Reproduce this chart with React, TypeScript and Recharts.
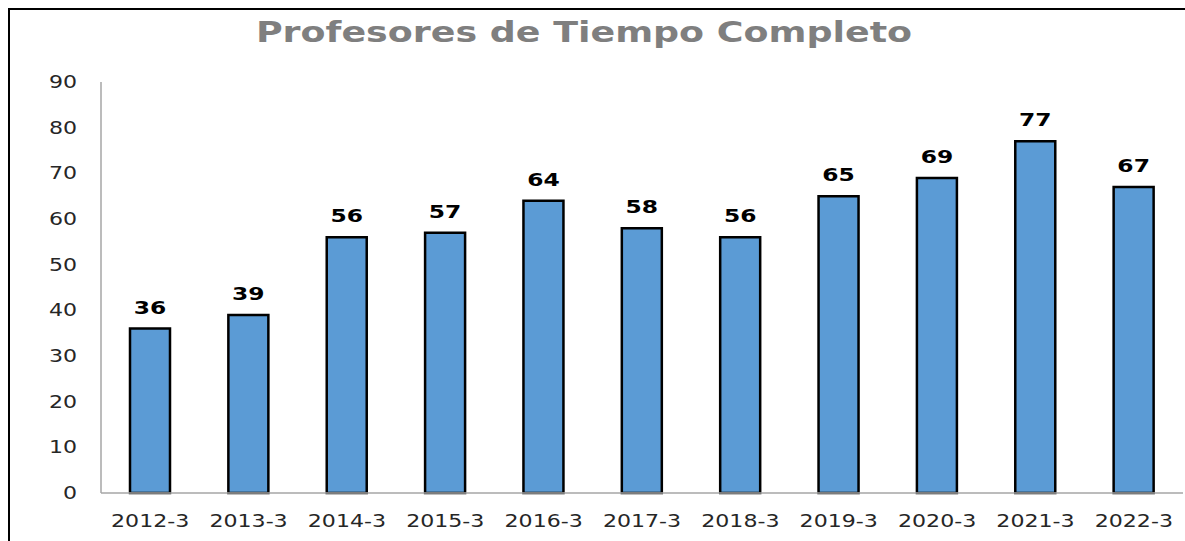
import { Bar, BarChart, LabelList, XAxis, YAxis } from 'recharts';

const categories = ['2012-3', '2013-3', '2014-3', '2015-3', '2016-3', '2017-3', '2018-3', '2019-3', '2020-3', '2021-3', '2022-3'];
const profesores = [36, 39, 56, 57, 64, 58, 56, 65, 69, 77, 67];
const yTicks = [0, 10, 20, 30, 40, 50, 60, 70, 80, 90];

const data = categories.map((periodo, i) => ({ periodo, profesores: profesores[i] }));

const FONT = '"DejaVu Sans", Verdana, sans-serif';
const STRETCH = 1.3;

function XTick({ x, y, payload }: any) {
  return (
    <text
      transform={`translate(${x},${y + 34}) scale(${STRETCH},1)`}
      textAnchor="middle"
      fontFamily={FONT}
      fontSize={17}
      fill="#262626"
    >
      {payload.value}
    </text>
  );
}

function YTick({ x, y, payload }: any) {
  return (
    <text
      transform={`translate(${x - 24},${y + 6}) scale(${STRETCH},1)`}
      textAnchor="end"
      fontFamily={FONT}
      fontSize={17}
      fill="#262626"
    >
      {payload.value}
    </text>
  );
}

function ValueLabel({ x, y, width, value }: any) {
  return (
    <text
      transform={`translate(${x + width / 2},${y - 15}) scale(${STRETCH},1)`}
      textAnchor="middle"
      fontFamily={FONT}
      fontSize={18}
      fontWeight="bold"
      fill="#000"
    >
      {value}
    </text>
  );
}

export default function App() {
  return (
    <div style={{ position: 'absolute', left: 0, top: 0, width: 1185, height: 541, overflow: 'hidden', background: '#fff' }}>
      <div
        style={{
          position: 'absolute',
          left: 8,
          top: 8,
          width: 1300,
          height: 700,
          borderLeft: '2px solid #000',
          borderTop: '2px solid #000',
        }}
      />
      <div
        style={{
          position: 'absolute',
          left: 584,
          top: 17,
          transform: `translateX(-50%) scaleX(${STRETCH})`,
          fontFamily: FONT,
          fontSize: 28,
          fontWeight: 'bold',
          lineHeight: '32px',
          color: '#7f7f7f',
          whiteSpace: 'nowrap',
        }}
      >
        Profesores de Tiempo Completo
      </div>
      <BarChart
        width={1185}
        height={541}
        data={data}
        margin={{ top: 82, right: 2, bottom: 18, left: 0 }}
        style={{ position: 'absolute', left: 0, top: 0 }}
      >
        <XAxis
          dataKey="periodo"
          height={30}
          tickLine={false}
          tickSize={0}
          tickMargin={0}
          axisLine={{ stroke: '#a6a6a6', strokeWidth: 1.5 }}
          tick={<XTick />}
          interval={0}
        />
        <YAxis
          width={101}
          domain={[0, 90]}
          ticks={yTicks}
          tickLine={false}
          tickSize={0}
          tickMargin={0}
          axisLine={{ stroke: '#a6a6a6', strokeWidth: 1.5 }}
          tick={<YTick />}
          interval={0}
        />
        <Bar dataKey="profesores" fill="#5b9bd5" stroke="#000" strokeWidth={2.5} barSize={40} isAnimationActive={false}>
          <LabelList dataKey="profesores" content={<ValueLabel />} />
        </Bar>
      </BarChart>
    </div>
  );
}
